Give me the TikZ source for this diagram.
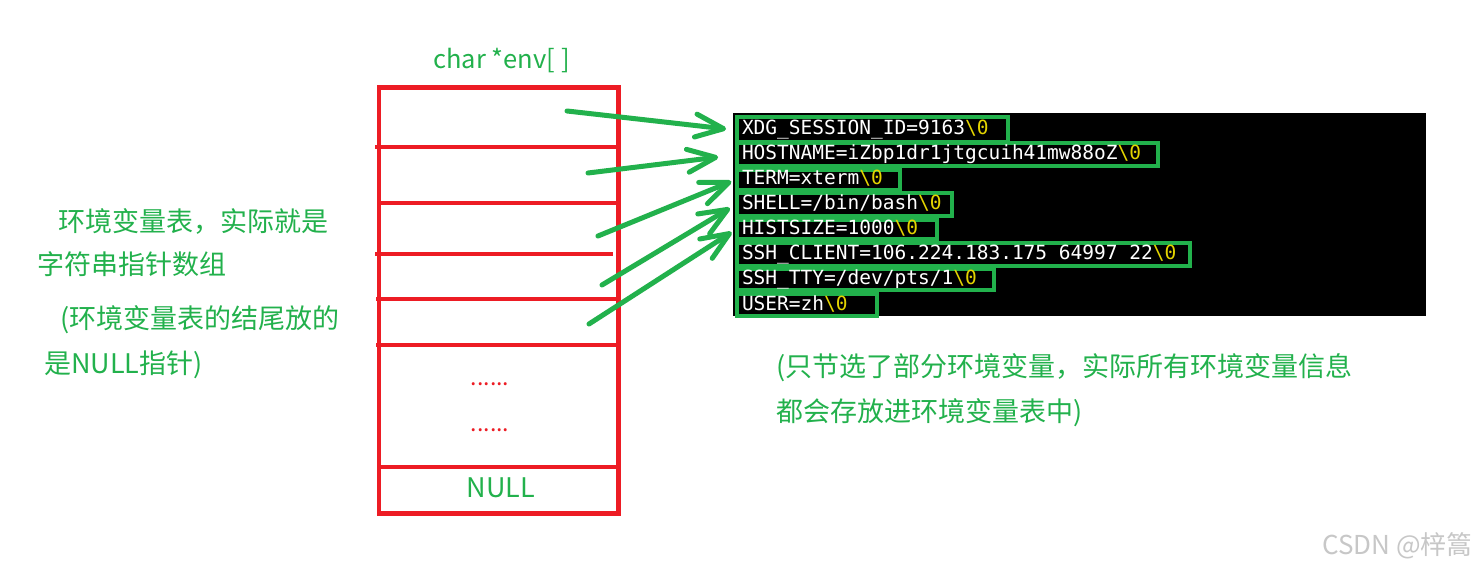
\documentclass[tikz,border=0pt]{standalone}
\usepackage{fontspec}
\setmonofont{DejaVu Sans Mono}
\newfontfamily\cjk{Noto Sans CJK SC}
\usepackage{tikz}
\usetikzlibrary{arrows.meta}
\usepackage{xcolor}
\definecolor{envgreen}{RGB}{34,177,76}
\definecolor{cellred}{RGB}{237,28,36}
\definecolor{nulyellow}{RGB}{228,212,0}
\newcommand{\nulchar}{\textcolor{nulyellow}{\textbackslash 0}}
\newcommand{\monosp}{\hspace*{0.602em}}

\begin{document}
\begin{tikzpicture}[x=1pt,y=-1pt,
  cellline/.style={draw=cellred,line width=4.5pt},
  envline/.style={draw=envgreen,line width=4pt,text=white,font=\ttfamily\fontsize{19.5}{25}\selectfont,anchor=west,inner xsep=5pt,inner ysep=0pt,text height=12pt,text depth=2pt,align=left},
  note/.style={text=envgreen,font=\cjk\fontsize{27}{30}\selectfont,inner sep=0pt},
  ptr/.style={draw=envgreen,line width=5pt,line cap=round,-{Straight Barb[length=28pt,width=23pt,round]},shorten >=4pt}]
\useasboundingbox[fill=white] (0,0) rectangle (1476,572);
\fill[black] (733,113) rectangle (1426,316);
\draw[cellline] (379,87.5) rectangle (618.5,513.5);
\draw[cellline] (375,147) -- (621,147);
\draw[cellline] (379,203) -- (618,203);
\draw[cellline] (375,254) -- (613,254);
\draw[cellline] (376,299) -- (621,299);
\draw[cellline] (376,345) -- (618,345);
\draw[cellline] (379,467) -- (618,467);
\node[note,anchor=base,font=\cjk\fontsize{25.5}{30}\selectfont] (envname) at (501.5,69) {char *env[ ]};
\node[note,anchor=base,text=cellred,font=\cjk\fontsize{23}{28}\selectfont] (dots1) at (490,385) {......};
\node[note,anchor=base,text=cellred,font=\cjk\fontsize{23}{28}\selectfont] (dots2) at (490,431) {......};
\node[note,anchor=base] (nullcell) at (501,497) {NULL};
\node[note,anchor=base west] (tabnote1) at (58,232) {环境变量表，实际就是};
\node[note,anchor=base west] (tabnote2) at (37,275) {字符串指针数组};
\node[note,anchor=base west] (tabnote3) at (60,328) {(环境变量表的结尾放的};
\node[note,anchor=base west] (tabnote4) at (44,373) {是NULL指针)};
\node[note,anchor=base west] (partnote1) at (776,376) {(只节选了部分环境变量，实际所有环境变量信息};
\node[note,anchor=base west] (partnote2) at (776,421) {都会存放进环境变量表中)};
\node[envline,text width=261pt,minimum height=25pt] (xdg) at (735,130) {XDG\_SESSION\_ID=9163\nulchar};
\node[envline,text width=411pt,minimum height=23pt] (hostname) at (735,155) {HOSTNAME=iZbp1dr1jtgcuih41mw88oZ\nulchar};
\node[envline,text width=153pt,minimum height=20pt] (term) at (735,180) {TERM=xterm\nulchar};
\node[envline,text width=205pt,minimum height=23pt] (shell) at (735,205) {SHELL=/bin/bash\nulchar};
\node[envline,text width=190pt,minimum height=19pt] (histsize) at (735,230) {HISTSIZE=1000\nulchar};
\node[envline,text width=443pt,minimum height=23pt] (sshclient) at (735,255) {SSH\_CLIENT=106.224.183.175\monosp 64997\monosp 22\nulchar};
\node[envline,text width=247pt,minimum height=21pt] (sshtty) at (735,280) {SSH\_TTY=/dev/pts/1\nulchar};
\node[envline,text width=130pt,minimum height=22pt] (user) at (735,305) {USER=zh\nulchar};
\node[anchor=east,inner sep=0pt,text=black!22,font=\cjk\fontsize{26}{30}\selectfont] (mark) at (1473,546) {CSDN @梓篙};
\coordinate (ptr1) at (567,111);
\coordinate (ptr2) at (588,173);
\coordinate (ptr3) at (598,236);
\coordinate (ptr4) at (602,285);
\coordinate (ptr5) at (589,324);
\draw[ptr,shorten >=9pt] (ptr1) -- (xdg.west);
\draw[ptr,shorten >=17pt] (ptr2) -- (hostname.west);
\draw[ptr] (ptr3) -- (term.west);
\draw[ptr,shorten >=6pt] (ptr4) -- (shell.west);
\draw[ptr] (ptr5) -- (histsize.west);
\end{tikzpicture}
\end{document}
